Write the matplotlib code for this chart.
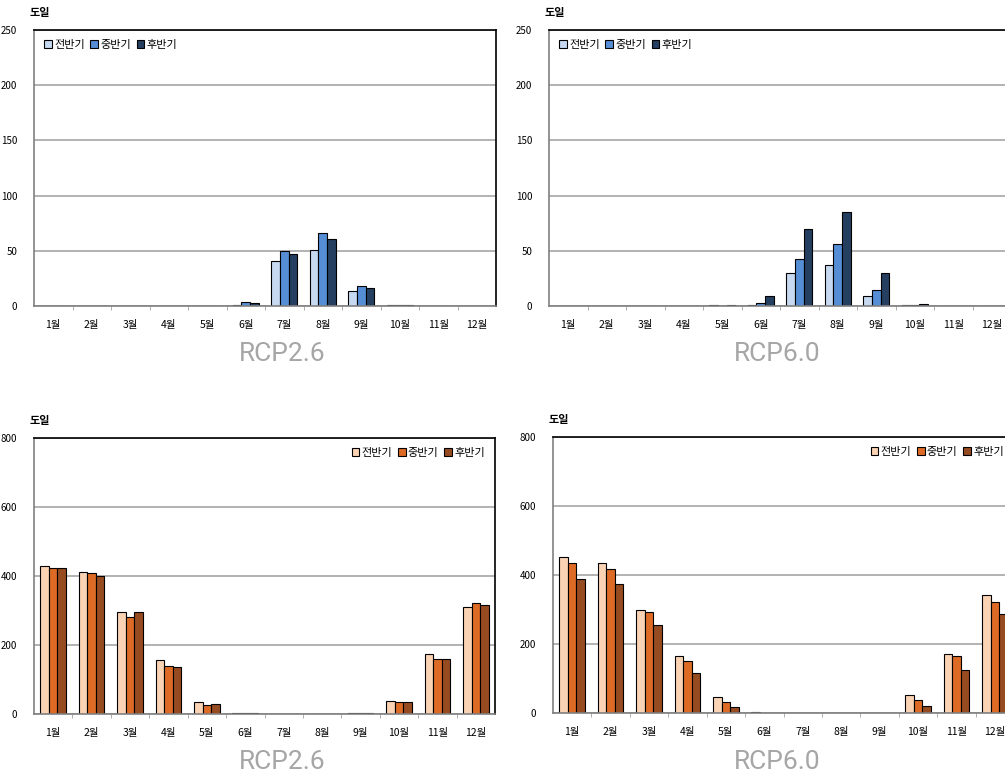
import matplotlib.pyplot as plt
import numpy as np

plt.rcParams['font.family'] = ['Noto Sans CJK KR', 'DejaVu Sans']

months = ['1월', '2월', '3월', '4월', '5월', '6월', '7월', '8월', '9월', '10월', '11월', '12월']
periods = ['전반기', '중반기', '후반기']

# top row: blue series (summer days)
rcp26_top = [
    [0, 0, 0, 0, 0, 1, 40.5, 51, 14, 0.8, 0, 0],
    [0, 0, 0, 0, 0, 4, 50, 66.5, 17.7, 0.8, 0, 0],
    [0, 0, 0, 0, 0, 3, 47, 60.7, 16.5, 0.8, 0, 0],
]
rcp60_top = [
    [0, 0, 0, 0, 0.5, 0.5, 29.5, 36.8, 9, 0.5, 0, 0],
    [0, 0, 0, 0, 0, 2.4, 42.5, 56.3, 14.5, 0.5, 0, 0],
    [0, 0, 0, 0, 0.5, 9, 69.3, 85.3, 29.5, 1.5, 0, 0],
]
# bottom row: orange series (winter days)
rcp26_bot = [
    [428, 411.6, 296.6, 155.6, 35.7, 2, 0, 0, 2, 38.6, 175, 310],
    [422, 408.7, 281, 140, 27, 2, 0, 0, 2, 33.8, 158.5, 322.7],
    [422, 399, 294.7, 137, 30, 2, 0, 0, 2, 35.7, 158.5, 315],
]
rcp60_bot = [
    [452.7, 433.4, 299, 164, 46.3, 4, 0, 0, 1, 53, 171, 342.7],
    [433.4, 416, 292.5, 150.6, 31.9, 1, 1, 0, 1, 36.7, 164, 322.4],
    [388, 374.5, 255.8, 115, 16.4, 1, 0, 0, 1, 21, 123.6, 285.7],
]

blue_colors = ['#C6D9F1', '#558ED5', '#243F60']
orange_colors = ['#FAD3B4', '#DD6B26', '#974B20']

W, H = 1005, 774


def px_axes(fig, left, top, width, height):
    return fig.add_axes([left / W, (H - top - height) / H, width / W, height / H])


def draw_panel(ax, data, colors, ymax, ystep, legend_loc, anchor):
    x = np.arange(len(months))
    bw = 0.222
    for i, vals in enumerate(data):
        ax.bar(x + (i - 1) * bw, vals, bw, color=colors[i], edgecolor='black',
               linewidth=0.8, label=periods[i], zorder=3)
    ax.set_xlim(-0.5, 11.5)
    ax.set_ylim(0, ymax)
    ax.set_yticks(np.arange(0, ymax + 1, ystep))
    ax.yaxis.grid(True, color='#a6a6a6', linewidth=1.2, zorder=0)
    ax.set_axisbelow(True)
    ax.set_xticks(x)
    ax.set_xticklabels(months)
    ax.set_xticks(np.arange(0.5, 11.5, 1), minor=True)
    ax.tick_params(axis='x', which='major', length=0, pad=10, labelsize=7.5)
    ax.tick_params(axis='x', which='minor', length=3, color='#a0a0a0', direction='out')
    ax.tick_params(axis='y', length=0, pad=12, labelsize=7)
    ax.spines['left'].set_color('#808080')
    ax.spines['bottom'].set_color('#808080')
    ax.spines['top'].set_color('black')
    ax.spines['right'].set_color('black')
    for s in ax.spines.values():
        s.set_linewidth(1.2)
    ax.spines['bottom'].set_zorder(4)
    ax.legend(loc=legend_loc, bbox_to_anchor=anchor, ncol=3, frameon=False,
              fontsize=8, handlelength=0.7, handleheight=0.7, handletextpad=0.2,
              columnspacing=0.5, borderaxespad=0.5)
    ax.text(-0.01, 1.04, '도일', transform=ax.transAxes, fontsize=8, fontweight='bold',
            ha='left', va='bottom')


fig = plt.figure(figsize=(W / 100, H / 100), dpi=100)

ax1 = px_axes(fig, 34, 30, 462, 276)
draw_panel(ax1, rcp26_top, blue_colors, 250, 50, 'upper left', (0.0, 1.0))
ax2 = px_axes(fig, 549, 30, 462, 276)
draw_panel(ax2, rcp60_top, blue_colors, 250, 50, 'upper left', (0.0, 1.0))
ax3 = px_axes(fig, 34, 438, 461, 276)
draw_panel(ax3, rcp26_bot, orange_colors, 800, 200, 'upper right', (1.0, 1.0))
ax4 = px_axes(fig, 553, 437, 461, 276)
draw_panel(ax4, rcp60_bot, orange_colors, 800, 200, 'upper right', (1.0, 1.0))

for (cx, cy, t) in [(282, 354, 'RCP2.6'), (777, 354, 'RCP6.0'),
                    (282, 762, 'RCP2.6'), (777, 762, 'RCP6.0')]:
    fig.text(cx / W, 1 - cy / H, t, ha='center', va='center', fontsize=19,
             color='#a6a6a6', family='Roboto')

fig.savefig('out.png', dpi=100)
